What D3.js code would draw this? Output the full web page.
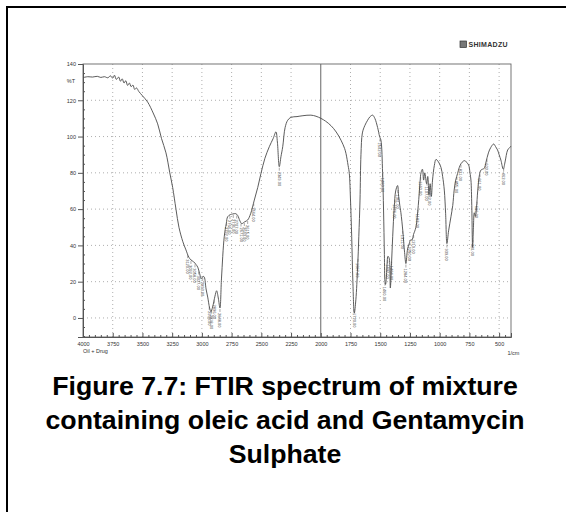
<!DOCTYPE html>
<html>
<head>
<meta charset="utf-8">
<script src="https://cdn.jsdelivr.net/npm/d3@7"></script>
<style>
  html, body { margin: 0; padding: 0; background: #fff; }
  svg { display: block; }
</style>
</head>
<body>
<svg id="chart" width="566" height="512"></svg>
<script>
// ---------------- DATA ----------------
const wavenumbers = [
  4000,3960,3920,3880,3850,3820,3790,3770,3750,3735,3720,3700,3685,3670,3655,3640,3625,3610,3595,3580,3565,3550,3530,3500,
  3456,3410,3372,3340,3302,3270,3246,3218,3193,3160,3134,3110,3092,3070,3050,3035,3015,3005,2990,2980,2965,2951,2935,2924,
  2910,2890,2876,2862,2848,2835,2812,2795,2783,2760,2741,2715,2699,2680,2665,2640,2615,2590,2559,2530,2503,2470,2433,2400,
  2377,2365,2349,2335,2320,2300,2278,2251,2200,2150,2083,2040,1998,1960,1914,1870,1830,1800,1788,1770,1760,1750,1740,1730,
  1718,1705,1690,1680,1670,1662,1650,1630,1606,1585,1564,1545,1522,1505,1494,1480,1472,1465,1460,1455,1445,1435,1425,1415,
  1405,1395,1382,1370,1354,1345,1335,1326,1310,1295,1284,1270,1256,1245,1233,1220,1200,1180,1165,1157,1145,1135,1125,1110,
  1100,1090,1080,1070,1060,1045,1031,1010,989,975,961,950,939,925,905,890,878,865,849,835,821,800,787,770,756,745,737,730,
  723,716,709,700,690,680,665,653,640,625,610,590,570,546,530,513,500,485,465,450,428,410,400
];
const transmittance = [
  132.5,133,132.8,133.2,132.6,133,132.4,133.5,132.2,133.8,131.5,132.8,130.5,131.8,129.5,130.8,128.2,129.5,127.5,128.4,126,126.8,124.8,122.5,
  119,113,107,99,91,80,72,60,50,42,37.5,33.5,32,31,29.5,28,23.5,21.5,23,22.5,16,11.5,5.5,3.5,
  6,12,15,11,5.5,22,44.8,52,55.8,57,57.3,57.5,56.5,53.5,52,53,54,57.5,65,72,79.7,88,94.4,99,
  102.6,97,83.4,88.9,94.4,105,109,110.6,111,111.5,111.8,111.2,110,108.5,106,102.5,98,93.5,90.7,84,79.7,65,45,20,
  2.6,10,28,45,65,90,102,106,109,111,111.8,110,105,100,98,80,59.5,35,20,18.5,26,34,33,16.5,
  30,45,61,70,73,67,62,58,48,36,30,38,41,43,43,46,50,62,75,80,82,76,80,74,
  78,68,74,67,76,84,87.4,86,83,78,70.5,57.7,41,48,55.8,62,70.5,76,79.7,83,85,86.5,86.7,85.5,84.3,80,76,62,
  39,50,58,56,61,70,79,81.5,82,82.5,86,91,94,95.9,94.5,92.6,90,87,82,86,92.6,94,94.8
];

// picked peaks (wavenumber labels printed by the instrument)
const peakWavenumbers = [3120,3092,3058,3027,2993,2938,2918,2896,2848,2792,2764,2736,2707,2671,2643,2615,2564,2349,
  1720,1687,1502,1480,1460,1437,1404,1376,1351,1311,1284,1250,1219,1183,1160,1107,1082,939,855,821,720,686,661,602,462];

const yTickValues = [0,20,40,60,80,100,120,140];
const xTickValues = [4000,3750,3500,3250,3000,2750,2500,2250,2000,1750,1500,1250,1000,750,500];
const xGridValues = [3750,3500,3250,3000,2750,2500,2250,1750,1500,1250,1000,750,500];
const yGridValues = [0,20,40,60,80,100,120];
const captionLines = ["Figure 7.7: FTIR spectrum of mixture", "containing oleic acid and Gentamycin", "Sulphate"];
const sampleName = "Oil + Drug";
const unitLabel = "1/cm";
const yAxisName = "%T";
const brand = "SHIMADZU";

// ---------------- DRAW ----------------
const svg = d3.select("#chart");
const W = 566, H = 512;
const pL = 83, pR = 511, pT = 64, pB = 337;

const x = d3.scaleLinear().domain([4000, 400]).range([pL, pR]);
const y = d3.scaleLinear().domain([-10.5, 140]).range([pB, pT]);

// outer page borders (left and top)
svg.append("line").attr("x1", 7).attr("x2", 7).attr("y1", 6).attr("y2", H).attr("stroke", "#000").attr("stroke-width", 2);
svg.append("line").attr("x1", 6).attr("x2", W).attr("y1", 7).attr("y2", 7).attr("stroke", "#000").attr("stroke-width", 2);

const ink = "#555";
const font = "Liberation Sans, Arial, sans-serif";
const g = svg.append("g");

// grid
g.selectAll(".vg").data(xGridValues).enter().append("line")
  .attr("x1", d => x(d)).attr("x2", d => x(d)).attr("y1", pT).attr("y2", pB)
  .attr("stroke", "#999").attr("stroke-width", 0.8).attr("stroke-dasharray", "1,3");
g.selectAll(".hg").data(yGridValues).enter().append("line")
  .attr("x1", pL).attr("x2", pR).attr("y1", d => y(d)).attr("y2", d => y(d))
  .attr("stroke", "#999").attr("stroke-width", 0.8).attr("stroke-dasharray", "1,3");

// solid 2000 line
g.append("line").attr("x1", x(2000)).attr("x2", x(2000)).attr("y1", pT).attr("y2", pB)
  .attr("stroke", "#555").attr("stroke-width", 0.9);

// frame
g.append("rect").attr("x", pL).attr("y", pT).attr("width", pR - pL).attr("height", pB - pT)
  .attr("fill", "none").attr("stroke", "#666").attr("stroke-width", 0.9);

// y axis
const yAxis = d3.axisLeft(y).tickValues(yTickValues).tickSize(5).tickPadding(2).tickFormat(d3.format("d"));
const ya = g.append("g").attr("transform", `translate(${pL},0)`).call(yAxis);
ya.select(".domain").attr("stroke", ink);
ya.selectAll(".tick line").attr("stroke", ink);
ya.selectAll("text").attr("fill", "#333").attr("font-size", 5.5).attr("font-family", font);
const yMinor = d3.range(-10, 141, 5).filter(v => v % 20 !== 0);
const yma = g.append("g").attr("transform", `translate(${pL},0)`)
  .call(d3.axisRight(y).tickValues(yMinor).tickSize(2).tickFormat(""));
yma.select(".domain").remove();
yma.selectAll(".tick line").attr("stroke", ink);

// y axis name
g.append("text").attr("x", pL - 8).attr("y", y(130.5)).attr("dy", "0.35em").attr("text-anchor", "end")
  .attr("font-size", 5.5).attr("fill", "#333").attr("font-family", font).text(yAxisName);

// x axis
const xa = g.append("g").attr("transform", `translate(0,${pB})`)
  .call(d3.axisBottom(x).tickValues(xTickValues).tickSize(-4).tickPadding(5).tickFormat(d3.format("d")));
xa.select(".domain").attr("stroke", ink);
xa.selectAll(".tick line").attr("stroke", ink);
xa.selectAll("text").attr("fill", "#333").attr("font-size", 5.5).attr("font-family", font);
const xMinor = d3.range(400, 4001, 50).filter(v => v % 250 !== 0);
const xma = g.append("g").attr("transform", `translate(0,${pB})`)
  .call(d3.axisBottom(x).tickValues(xMinor).tickSize(-2).tickFormat(""));
xma.select(".domain").remove();
xma.selectAll(".tick line").attr("stroke", ink);

g.append("text").attr("x", x(4000)).attr("y", pB + 16).attr("font-size", 5.5).attr("fill", "#333")
  .attr("font-family", font).text(sampleName);
g.append("text").attr("x", x(430)).attr("y", pB + 18).attr("font-size", 5.5).attr("fill", "#333")
  .attr("font-family", font).text(unitLabel);

// spectrum
const pts = wavenumbers.map((w, i) => [w, transmittance[i]]);
const line = d3.line().x(d => x(d[0])).y(d => y(d[1])).curve(d3.curveCatmullRom.alpha(0.5));
g.append("path").attr("d", line(pts)).attr("fill", "none").attr("stroke", "#4a4a4a").attr("stroke-width", 0.9);

// peak labels
const interpT = w => {
  for (let i = 0; i < wavenumbers.length - 1; i++) {
    const a = wavenumbers[i], b = wavenumbers[i + 1];
    if (w <= a && w >= b) {
      const t = (a - w) / (a - b);
      return transmittance[i] + t * (transmittance[i + 1] - transmittance[i]);
    }
  }
  return transmittance[transmittance.length - 1];
};
const pk = g.append("g");
peakWavenumbers.forEach(w => {
  const px = x(w), py = y(interpT(w));
  pk.append("line").attr("x1", px).attr("x2", px).attr("y1", py + 1).attr("y2", py + 4)
    .attr("stroke", "#555").attr("stroke-width", 0.5);
  pk.append("text").attr("transform", `translate(${px - 1.5},${py + 5}) rotate(90)`)
    .attr("font-size", 4).attr("fill", "#444").attr("font-family", font)
    .text(w.toFixed(2));
});

// brand
const bx = 460, by = 47;
svg.append("rect").attr("x", bx).attr("y", by - 6).attr("width", 6.5).attr("height", 6.5)
  .attr("fill", "#777").attr("stroke", "#333").attr("stroke-width", 0.7);
svg.append("text").attr("x", bx + 8.5).attr("y", by).attr("font-size", 7).attr("font-weight", "bold")
  .attr("fill", "#333").attr("font-family", font).attr("letter-spacing", 0.3).text(brand);

// caption
svg.append("g").selectAll("text").data(captionLines).enter().append("text")
  .attr("x", 285).attr("y", (d, i) => 395 + i * 34)
  .attr("text-anchor", "middle").attr("font-size", 26.7).attr("font-weight", "bold")
  .attr("font-family", "Liberation Sans, Arial, Helvetica, sans-serif").attr("fill", "#000")
  .text(d => d);
</script>
</body>
</html>
